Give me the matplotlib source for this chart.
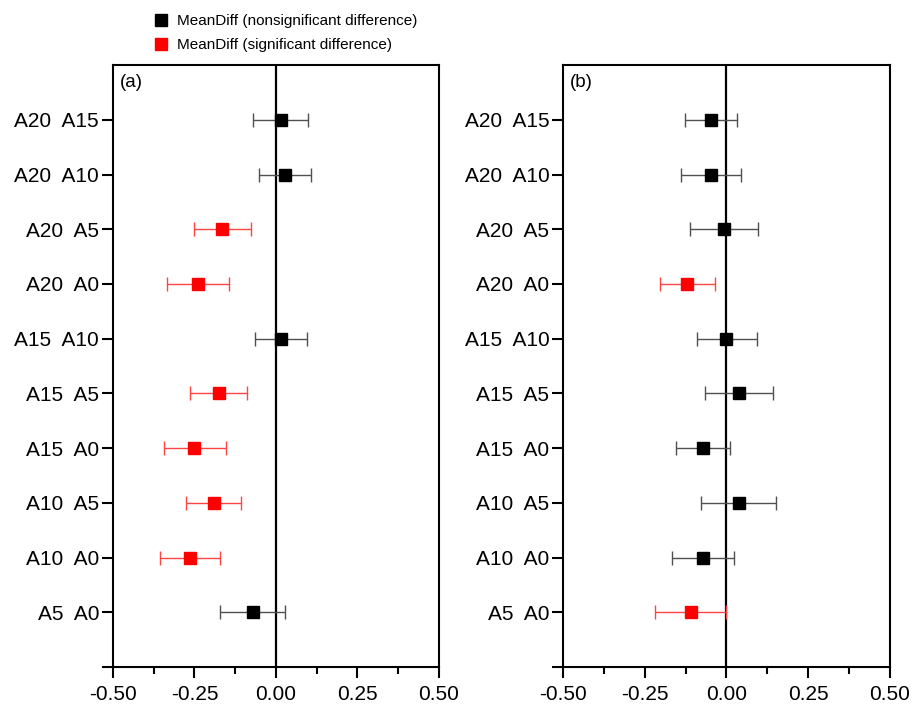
import numpy as np
from matplotlib import pyplot as plt
from matplotlib.lines import Line2D

plt.rcParams['font.family'] = ['Liberation Sans', 'DejaVu Sans']

pairs = ['A20  A15', 'A20  A10', 'A20  A5', 'A20  A0', 'A15  A10',
         'A15  A5', 'A15  A0', 'A10  A5', 'A10  A0', 'A5  A0']

# panel (a)
mean_a = [0.014, 0.027, -0.165, -0.239, 0.015,
          -0.176, -0.250, -0.191, -0.263, -0.072]
low_a = [-0.070, -0.052, -0.251, -0.333, -0.064,
         -0.264, -0.345, -0.275, -0.356, -0.172]
high_a = [0.098, 0.107, -0.077, -0.143, 0.095,
          -0.089, -0.154, -0.106, -0.171, 0.027]
sig_a = [False, False, True, True, False, True, True, True, True, False]

# panel (b)
mean_b = [-0.048, -0.048, -0.009, -0.120, 0.000,
          0.038, -0.072, 0.038, -0.073, -0.110]
low_b = [-0.127, -0.138, -0.113, -0.203, -0.091,
         -0.066, -0.155, -0.077, -0.167, -0.219]
high_b = [0.032, 0.044, 0.096, -0.036, 0.092,
          0.143, 0.011, 0.152, 0.023, -0.002]
sig_b = [False, False, False, True, False, False, False, False, False, True]

ypos = np.arange(len(pairs), 0, -1)

fig = plt.figure(figsize=(9.14, 7.09), dpi=100)
ax_a = fig.add_axes([0.1236, 0.0592, 0.3567, 0.849])
ax_b = fig.add_axes([0.6163, 0.0592, 0.3571, 0.849])


def draw_panel(ax, mean, low, high, sig, tag):
    for i in range(len(mean)):
        if sig[i]:
            mc, ec = 'red', '#ff4444'
        else:
            mc, ec = 'black', '#505050'
        err = [[mean[i] - low[i]], [high[i] - mean[i]]]
        ax.errorbar(mean[i], ypos[i], xerr=err, fmt='s', color=mc,
                    markersize=8.5, ecolor=ec, elinewidth=1.0, capsize=5,
                    capthick=1.0, zorder=3)
    ax.axvline(0, color='black', linewidth=1.6, zorder=2)
    ax.set_xlim(-0.5, 0.5)
    ax.set_ylim(0, 11)
    ax.set_xticks([-0.5, -0.25, 0.0, 0.25, 0.5])
    ax.set_xticklabels(['-0.50', '-0.25', '0.00', '0.25', '0.50'])
    ax.set_xticks([-0.375, -0.125, 0.125, 0.375], minor=True)
    ax.set_yticks(list(ypos) + [0])
    ax.set_yticklabels(pairs + [''])
    ax.tick_params(axis='both', which='major', direction='out', length=8,
                   width=1.5, labelsize=15)
    ax.tick_params(axis='x', which='major', pad=5)
    ax.tick_params(axis='x', which='minor', direction='out', length=5,
                   width=1.5)
    ax.tick_params(axis='y', which='major', length=8, pad=2)
    for s in ax.spines.values():
        s.set_linewidth(1.5)
    ax.text(0.02, 0.985, tag, transform=ax.transAxes, fontsize=13.5,
            va='top', ha='left')


draw_panel(ax_a, mean_a, low_a, high_a, sig_a, '(a)')
draw_panel(ax_b, mean_b, low_b, high_b, sig_b, '(b)')

handles = [
    Line2D([], [], marker='s', color='black', linestyle='None',
           markersize=8, label='MeanDiff (nonsignificant difference)'),
    Line2D([], [], marker='s', color='red', linestyle='None',
           markersize=8, label='MeanDiff (significant difference)'),
]
fig.legend(handles=handles, loc='upper left', bbox_to_anchor=(0.154, 0.999),
           frameon=False, fontsize=11, handlelength=0.8, handletextpad=0.7,
           labelspacing=0.65, borderpad=0.4)

plt.savefig('out.png', dpi=100)
plt.close()
